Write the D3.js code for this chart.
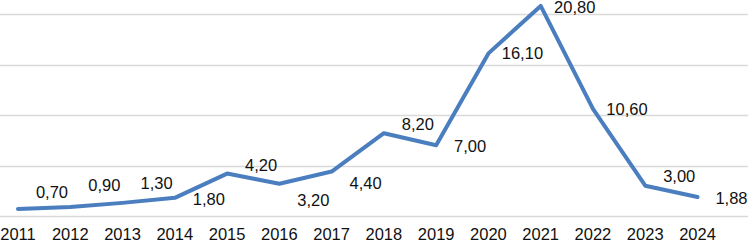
<!DOCTYPE html>
<html>
<head>
<meta charset="utf-8">
<script src="https://cdn.jsdelivr.net/npm/d3@7"></script>
<style>
    html, body { margin: 0; padding: 0; background: #fff; }
    svg { display: block; }
    text { font-family: "Liberation Sans", Arial, sans-serif; fill: #111; }
</style>
</head>
<body>
<svg id="chart" width="748" height="242"></svg>
<script>
    // Data
    const years = ['2011', '2012', '2013', '2014', '2015', '2016', '2017', '2018', '2019', '2020', '2021', '2022', '2023', '2024'];
    const values = [0.70, 0.90, 1.30, 1.80, 4.20, 3.20, 4.40, 8.20, 7.00, 16.10, 20.80, 10.60, 3.00, 1.88];
    const gridTicks = [0, 5, 10, 15, 20];

    // Vertical nudges of the data labels (px, relative to the point)
    const labelNudge = [-17, -22, -20, 1, -9, 16, 11, -9, 1, 0, 1, 0, -10, 1];

    const WIDTH = 748, HEIGHT = 242;
    const LINE_COLOR = '#4a7ebf';
    const GRID_COLOR = '#d9d9d9';

    const fmt = d3.formatLocale({ decimal: ',', thousands: '.', grouping: [3], currency: ['', ''] }).format('.2f');

    const svg = d3.select('#chart');

    const x = d3.scalePoint()
        .domain(years)
        .range([18, 697.5]);

    const y = d3.scaleLinear()
        .domain([0, 20])
        .range([216, 14]);

    // Gridlines
    svg.append('g')
        .attr('class', 'grid')
        .selectAll('line')
        .data(gridTicks)
        .enter().append('line')
        .attr('x1', 0)
        .attr('x2', WIDTH)
        .attr('y1', (d) => Math.round(y(d)) + 0.5)
        .attr('y2', (d) => Math.round(y(d)) + 0.5)
        .attr('stroke', GRID_COLOR)
        .attr('stroke-width', 1.5);

    // X axis labels
    svg.append('g')
        .attr('class', 'x-labels')
        .selectAll('text')
        .data(years)
        .enter().append('text')
        .attr('x', (d) => x(d))
        .attr('y', 240)
        .attr('text-anchor', 'middle')
        .style('font-size', '16.5px')
        .text((d) => d);

    // Line
    const line = d3.line()
        .x((d, i) => x(years[i]))
        .y((d) => y(d));

    svg.append('path')
        .datum(values)
        .attr('d', line)
        .attr('fill', 'none')
        .attr('stroke', LINE_COLOR)
        .attr('stroke-width', 4)
        .attr('stroke-linejoin', 'round')
        .attr('stroke-linecap', 'round');

    // Data labels
    svg.append('g')
        .attr('class', 'labels')
        .selectAll('text')
        .data(values)
        .enter().append('text')
        .attr('x', (d, i) => x(years[i]) + 34)
        .attr('y', (d, i) => y(d) + labelNudge[i] + 6)
        .attr('text-anchor', 'middle')
        .style('font-size', '16.5px')
        .text((d) => fmt(d));
</script>
</body>
</html>
